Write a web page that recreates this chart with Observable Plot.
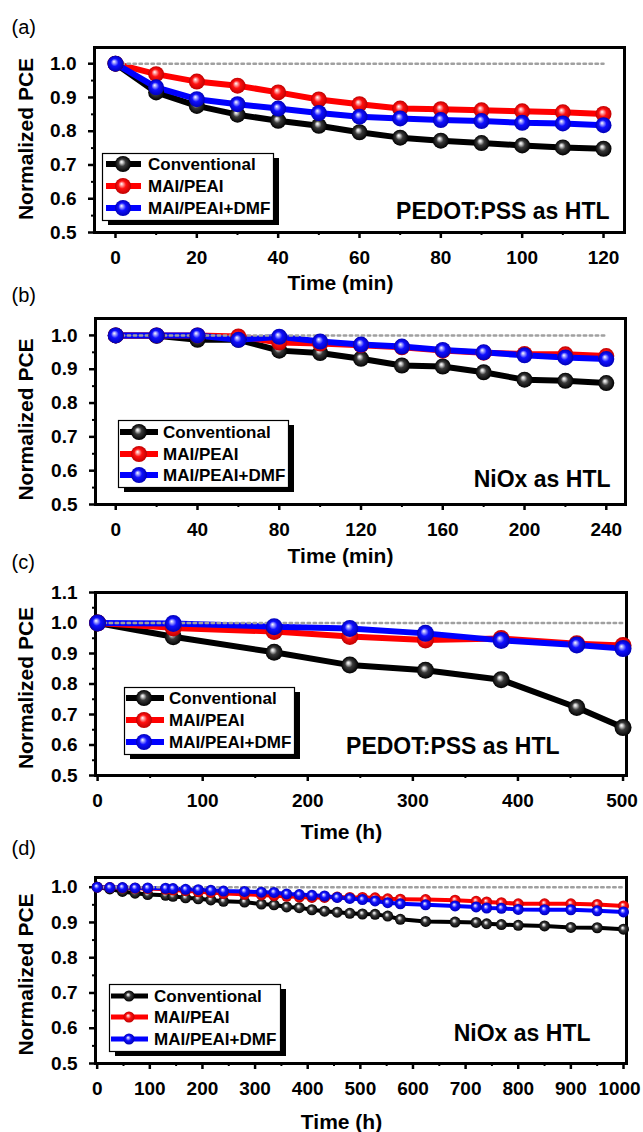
<!DOCTYPE html>
<html>
<head>
<meta charset="utf-8">
<script src="https://cdn.jsdelivr.net/npm/d3@7"></script>
<script src="https://cdn.jsdelivr.net/npm/@observablehq/plot@0.6"></script>
<style>
  html, body { margin: 0; padding: 0; background: #fff; }
  #page { position: relative; width: 643px; height: 1132px;
          font-family: "Liberation Sans", Arial, sans-serif; }
  #page svg.panel { position: absolute; left: 0; }
  #page svg.legend { position: absolute; overflow: visible; }
</style>
</head>
<body>
<svg width="0" height="0" style="position:absolute">
  <defs>
    <radialGradient id="gBlack" cx="50%" cy="50%" r="50%" fx="40%" fy="36%">
      <stop offset="0%" stop-color="#ffffff"/>
      <stop offset="16%" stop-color="#cfcfcf"/>
      <stop offset="45%" stop-color="#3a3a3a"/>
      <stop offset="100%" stop-color="#000000"/>
    </radialGradient>
    <radialGradient id="gRed" cx="50%" cy="50%" r="50%" fx="40%" fy="36%">
      <stop offset="0%" stop-color="#ffffff"/>
      <stop offset="16%" stop-color="#ffb0b0"/>
      <stop offset="48%" stop-color="#ff1010"/>
      <stop offset="100%" stop-color="#c00000"/>
    </radialGradient>
    <radialGradient id="gBlue" cx="50%" cy="50%" r="50%" fx="40%" fy="36%">
      <stop offset="0%" stop-color="#ffffff"/>
      <stop offset="16%" stop-color="#b0b0ff"/>
      <stop offset="48%" stop-color="#1010ff"/>
      <stop offset="100%" stop-color="#0000b8"/>
    </radialGradient>
  </defs>
</svg>
<div id="page"></div>
<script>
// ---------------- DATA ----------------
const seriesNames = ["Conventional", "MAI/PEAI", "MAI/PEAI+DMF"];

// (a) PEDOT:PSS, minutes
const timeA = [0, 10, 20, 30, 40, 50, 60, 70, 80, 90, 100, 110, 120];
const convA = [1.0, 0.915, 0.875, 0.849, 0.831, 0.816, 0.797, 0.781, 0.772, 0.765, 0.758, 0.752, 0.748];
const maiA  = [1.0, 0.969, 0.947, 0.935, 0.915, 0.894, 0.880, 0.867, 0.865, 0.862, 0.859, 0.856, 0.851];
const dmfA  = [1.0, 0.930, 0.895, 0.880, 0.867, 0.854, 0.843, 0.838, 0.833, 0.830, 0.825, 0.823, 0.818];

// (b) NiOx, minutes
const timeB = [0, 20, 40, 60, 80, 100, 120, 140, 160, 180, 200, 220, 240];
const convB = [1.0, 0.999, 0.987, 0.987, 0.955, 0.948, 0.931, 0.911, 0.908, 0.891, 0.869, 0.866, 0.859];
const maiB  = [1.0, 1.0, 1.0, 0.997, 0.979, 0.976, 0.971, 0.965, 0.955, 0.949, 0.945, 0.944, 0.939];
const dmfB  = [1.0, 1.0, 1.0, 0.987, 0.996, 0.982, 0.973, 0.967, 0.957, 0.950, 0.941, 0.935, 0.930];

// (c) PEDOT:PSS, hours
const timeC = [0, 72, 168, 240, 312, 384, 456, 500];
const convC = [1.0, 0.955, 0.904, 0.862, 0.845, 0.814, 0.723, 0.657];
const maiC  = [1.0, 0.984, 0.972, 0.956, 0.944, 0.949, 0.932, 0.926];
const dmfC  = [1.0, 0.998, 0.988, 0.982, 0.966, 0.943, 0.928, 0.916];

// (d) NiOx, hours
const timeD = [0, 24, 48, 72, 96, 130, 144, 168, 192, 216, 240, 280, 312, 336, 360, 384, 408, 432, 456, 480, 504, 528, 552, 576, 624, 680, 720, 740, 768, 800, 850, 900, 950, 1000];
const convD = [1.0, 0.995, 0.988, 0.983, 0.979, 0.977, 0.974, 0.970, 0.967, 0.964, 0.960, 0.958, 0.952, 0.950, 0.944, 0.942, 0.936, 0.932, 0.929, 0.926, 0.924, 0.923, 0.918, 0.909, 0.903, 0.901, 0.900, 0.896, 0.894, 0.892, 0.890, 0.886, 0.885, 0.881];
const maiD  = [1.0, 0.999, 0.998, 0.997, 0.996, 0.994, 0.992, 0.990, 0.987, 0.985, 0.982, 0.980, 0.978, 0.976, 0.974, 0.972, 0.971, 0.971, 0.972, 0.971, 0.971, 0.970, 0.967, 0.966, 0.965, 0.963, 0.960, 0.958, 0.956, 0.953, 0.953, 0.953, 0.951, 0.947];
const dmfD  = [1.0, 0.999, 0.999, 0.998, 0.998, 0.997, 0.996, 0.994, 0.993, 0.991, 0.989, 0.988, 0.986, 0.985, 0.981, 0.979, 0.977, 0.975, 0.971, 0.968, 0.965, 0.961, 0.956, 0.953, 0.950, 0.947, 0.944, 0.941, 0.940, 0.937, 0.936, 0.936, 0.933, 0.930];

// tick labels
const xTicksA = [0, 20, 40, 60, 80, 100, 120];
const xTicksB = [0, 40, 80, 120, 160, 200, 240];
const xTicksC = [0, 100, 200, 300, 400, 500];
const xTicksD = [0, 100, 200, 300, 400, 500, 600, 700, 800, 900, 1000];
const yTicksABD = [0.5, 0.6, 0.7, 0.8, 0.9, 1.0];
const yTicksC = [0.5, 0.6, 0.7, 0.8, 0.9, 1.0, 1.1];

// texts
const panelLetters = ["(a)", "(b)", "(c)", "(d)"];
const htlLabels = ["PEDOT:PSS as HTL", "NiOx as HTL", "PEDOT:PSS as HTL", "NiOx as HTL"];
const xTitles = ["Time (min)", "Time (min)", "Time (h)", "Time (h)"];
const yTitle = "Normalized PCE";
const refLevel = 1.0;

// ---------------- STYLE / LAYOUT ----------------
const lineColors = ["#000000", "#ff0000", "#0000ff"];
const dotFills = ["url(#gBlack)", "url(#gRed)", "url(#gBlue)"];
const FONT = '"Liberation Sans", Arial, Helvetica, sans-serif';

const panelData = [
  {time: timeA, series: [convA, maiA, dmfA], xTicks: xTicksA, yTicks: yTicksABD},
  {time: timeB, series: [convB, maiB, dmfB], xTicks: xTicksB, yTicks: yTicksABD},
  {time: timeC, series: [convC, maiC, dmfC], xTicks: xTicksC, yTicks: yTicksC},
  {time: timeD, series: [convD, maiD, dmfD], xTicks: xTicksD, yTicks: yTicksABD}
];

const layout = [
  {top: 0,   height: 300, ml: 94, mr: 19, mt: 47, frameBottom: 232,
   xDomain: [-5.16, 125.16], yDomain: [0.5, 1.048], r: 8, lw: 6, lastTickDx: 0,
   letterY: 27, yTitleDy: -1, xTitleDx: -19, xTitleDy: 51, htlDx: -15, htlDy: -21,
   legend: {x: 102, y: 153, w: 171, h: 67, rows: [11, 33, 55], sx1: 4, sx2: 39, sm: 21, tx: 46, r: 8, lw: 6}},
  {top: 280, height: 290, ml: 95, mr: 18, mt: 38, frameBottom: 504,
   xDomain: [-9.9, 249.4], yDomain: [0.5, 1.05], r: 8, lw: 6, lastTickDx: 0,
   letterY: 295, yTitleDy: 8, xTitleDx: -20, xTitleDy: 52, htlDx: -15, htlDy: -25,
   legend: {x: 118, y: 420, w: 170, h: 67, rows: [12, 34, 55], sx1: 2, sx2: 40, sm: 21, tx: 45, r: 8, lw: 6}},
  {top: 550, height: 290, ml: 95, mr: 17, mt: 42, frameBottom: 775,
   xDomain: [-2, 503.3], yDomain: [0.5, 1.1], r: 8.5, lw: 6, lastTickDx: -1,
   letterY: 562, yTitleDy: 4, xTitleDx: -19.5, xTitleDy: 57, htlDx: -67, htlDy: -29,
   legend: {x: 124, y: 687, w: 170, h: 67, rows: [11, 33, 55], sx1: 2, sx2: 40, sm: 20, tx: 45, r: 8, lw: 6}},
  {top: 835, height: 297, ml: 95, mr: 17, mt: 42, frameBottom: 1063,
   xDomain: [-3.2, 1005.7], yDomain: [0.5, 1.0275], r: 5.5, lw: 4, lastTickDx: -4,
   letterY: 848, yTitleDy: 4, xTitleDx: -19.5, xTitleDy: 59, htlDx: -36, htlDy: -30,
   legend: {x: 109, y: 984, w: 171, h: 67, rows: [12, 33, 55], sx1: 2, sx2: 39, sm: 20, tx: 45, r: 5.5, lw: 5}}
];

const page = document.getElementById("page");
const mid = (arr) => d3.pairs(arr).map(([a, b]) => (a + b) / 2);

panelData.forEach((pd, pi) => {
  const L = layout[pi];
  const mb = L.top + L.height - L.frameBottom;
  const rows = seriesNames.map((name, si) =>
    pd.time.map((t, i) => ({series: name, t, v: pd.series[si][i]})));
  const ref = [{t: pd.time[0], v: refLevel}, {t: pd.time[pd.time.length - 1], v: refLevel}];
  const xMain = pd.xTicks.slice(0, -1);
  const xLast = pd.xTicks.slice(-1);

  const marks = [
    Plot.frame({stroke: "#000", strokeWidth: 3}),
    Plot.axisY({ticks: pd.yTicks, tickSize: 6, tickPadding: 12, strokeWidth: 2.5,
      tickFormat: d3.format(".1f"), label: null, fontSize: 19, fontWeight: "bold"}),
    Plot.axisY({ticks: mid(pd.yTicks), tickSize: 3, strokeWidth: 2, tickFormat: () => "", label: null}),
    Plot.axisX({ticks: xMain, tickSize: 6, tickPadding: 12, strokeWidth: 2.5,
      tickFormat: d => String(d), label: null, fontSize: 19, fontWeight: "bold"}),
    Plot.axisX({ticks: xLast, tickSize: 6, strokeWidth: 2.5, tickFormat: () => "", label: null}),
    Plot.axisX({ticks: xLast, tickSize: 6, tickPadding: 12, strokeWidth: 0, dx: L.lastTickDx,
      tickFormat: d => String(d), label: null, fontSize: 19, fontWeight: "bold"}),
    Plot.axisX({ticks: mid(pd.xTicks), tickSize: 3, strokeWidth: 2, tickFormat: () => "", label: null}),
  ];
  rows.forEach((rs, si) => {
    marks.push(Plot.line(rs, {x: "t", y: "v", stroke: lineColors[si], strokeWidth: L.lw,
      strokeLinejoin: "round", strokeLinecap: "round"}));
  });
  marks.push(Plot.line(ref, {x: "t", y: "v", stroke: "#a0a0a0", strokeWidth: 2.5, strokeDasharray: "2.5,3.5"}));
  rows.forEach((rs, si) => {
    marks.push(Plot.dot(rs, {x: "t", y: "v", r: L.r, fill: dotFills[si], stroke: "none"}));
  });
  marks.push(
    Plot.text([panelLetters[pi]], {text: d => d, frameAnchor: "top-left", textAnchor: "start",
      lineAnchor: "middle", dx: 11 - L.ml, dy: (L.letterY - L.top) - L.mt, fontSize: 20, fontWeight: "normal"}),
    Plot.text([yTitle], {text: d => d, frameAnchor: "left", rotate: -90, textAnchor: "middle",
      lineAnchor: "middle", dx: 26 - L.ml, dy: L.yTitleDy, fontSize: 21, fontWeight: "bold"}),
    Plot.text([xTitles[pi]], {text: d => d, frameAnchor: "bottom", textAnchor: "middle",
      lineAnchor: "middle", dx: L.xTitleDx, dy: L.xTitleDy, fontSize: 21, fontWeight: "bold"}),
    Plot.text([htlLabels[pi]], {text: d => d, frameAnchor: "bottom-right", textAnchor: "end",
      lineAnchor: "middle", dx: L.htlDx, dy: L.htlDy, fontSize: 23, fontWeight: "bold"})
  );

  const svg = Plot.plot({
    width: 643,
    height: L.height,
    marginLeft: L.ml, marginRight: L.mr, marginTop: L.mt, marginBottom: mb,
    x: {domain: L.xDomain},
    y: {domain: L.yDomain},
    style: {background: "transparent", overflow: "visible", fontFamily: FONT, fontWeight: "bold", fontSize: "19px", color: "#000"},
    marks
  });
  svg.classList.add("panel");
  svg.style.top = L.top + "px";
  page.appendChild(svg);

  // legend box (inset, with drop shadow)
  const G = L.legend;
  const lg = d3.create("svg").attr("class", "legend")
    .attr("width", G.w + 8).attr("height", G.h + 8)
    .style("left", G.x + "px").style("top", G.y + "px");
  lg.append("rect").attr("x", 6).attr("y", 5).attr("width", G.w).attr("height", G.h).attr("fill", "#000");
  lg.append("rect").attr("x", 0.5).attr("y", 0.5).attr("width", G.w).attr("height", G.h)
    .attr("fill", "#fff").attr("stroke", "#000").attr("stroke-width", 1.2);
  seriesNames.forEach((name, si) => {
    const yy = G.rows[si];
    lg.append("line").attr("x1", G.sx1).attr("x2", G.sx2).attr("y1", yy).attr("y2", yy)
      .attr("stroke", lineColors[si]).attr("stroke-width", G.lw);
    lg.append("circle").attr("cx", G.sm).attr("cy", yy).attr("r", G.r).attr("fill", dotFills[si]);
    lg.append("text").attr("x", G.tx).attr("y", yy).attr("dy", "0.35em")
      .attr("font-family", FONT).attr("font-weight", "bold").attr("font-size", 17)
      .attr("fill", "#000").text(name);
  });
  page.appendChild(lg.node());
});
</script>
</body>
</html>
